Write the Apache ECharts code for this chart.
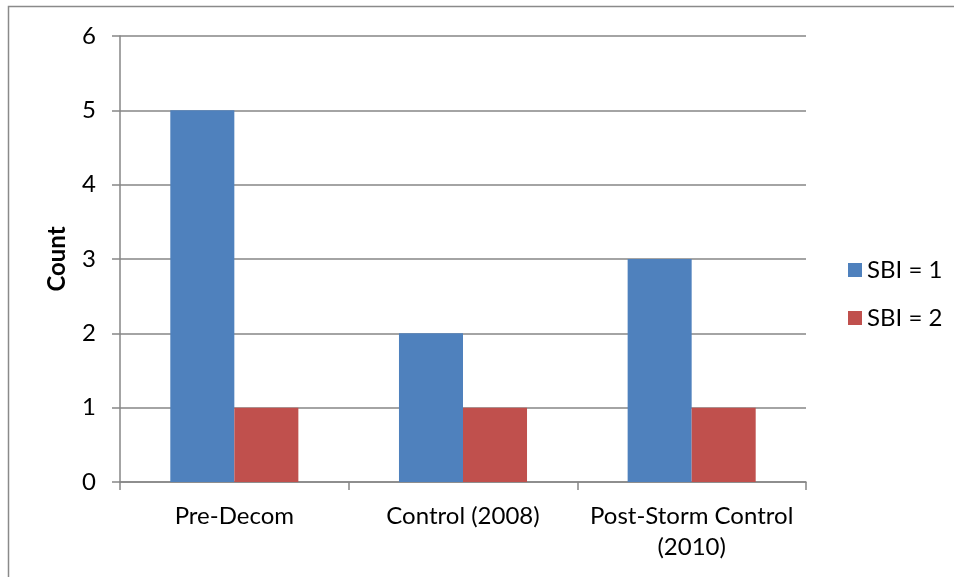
<!DOCTYPE html>
<html>
<head>
<meta charset="utf-8">
<script src="https://cdn.jsdelivr.net/npm/echarts@6/dist/echarts.min.js"></script>
<style>
  html, body { margin: 0; padding: 0; background: #fff; }
  #chart { width: 954px; height: 577px; }
</style>
</head>
<body>
<div id="chart"></div>
<script>
// Data
const categories = ['Pre-Decom', 'Control (2008)', 'Post-Storm Control\n(2010)'];
const sbi1 = [5, 2, 3];
const sbi2 = [1, 1, 1];
const seriesNames = ['SBI = 1', 'SBI = 2'];
const yTicks = { min: 0, max: 6, interval: 1 };

const FONT = 'Lato';
const GRID_GRAY = '#868686';

const chart = echarts.init(document.getElementById('chart'), null, { renderer: 'canvas' });

chart.setOption({
  animation: false,
  backgroundColor: '#fff',
  textStyle: { fontFamily: FONT },
  graphic: [{
    type: 'rect',
    shape: { x: 8.5, y: 6.5, width: 1000, height: 1000 },
    style: { fill: 'none', stroke: '#8a8a8a', lineWidth: 1.5 },
    silent: true
  }],
  grid: { left: 120, right: 148, top: 36, bottom: 95 },
  legend: {
    orient: 'vertical',
    left: 848,
    top: 258,
    padding: 0,
    itemWidth: 14,
    itemHeight: 14,
    itemGap: 24,
    icon: 'rect',
    textStyle: { fontFamily: FONT, fontSize: 24, color: '#000', lineHeight: 24 },
    data: seriesNames
  },
  xAxis: {
    type: 'category',
    data: categories,
    axisLine: { lineStyle: { color: GRID_GRAY, width: 1.5 } },
    axisTick: { show: true, length: 8, lineStyle: { color: GRID_GRAY, width: 1.5 } },
    axisLabel: { fontFamily: FONT, fontSize: 24, color: '#000', margin: 19, lineHeight: 31, interval: 0 }
  },
  yAxis: {
    type: 'value',
    min: yTicks.min,
    max: yTicks.max,
    interval: yTicks.interval,
    name: 'Count',
    nameLocation: 'middle',
    nameRotate: 90,
    nameGap: 51,
    nameTextStyle: { fontFamily: FONT, fontSize: 24, fontWeight: 'bold', color: '#000' },
    axisLine: { show: true, lineStyle: { color: GRID_GRAY, width: 1.5 } },
    axisTick: { show: true, length: 8, lineStyle: { color: GRID_GRAY, width: 1.5 } },
    axisLabel: { fontFamily: FONT, fontSize: 24, color: '#000', margin: 24 },
    splitLine: { show: true, lineStyle: { color: GRID_GRAY, width: 1.5 } }
  },
  series: [
    {
      name: seriesNames[0],
      type: 'bar',
      data: sbi1,
      barGap: '0%',
      barCategoryGap: '44%',
      itemStyle: { color: '#4F81BD' }
    },
    {
      name: seriesNames[1],
      type: 'bar',
      data: sbi2,
      barGap: '0%',
      barCategoryGap: '44%',
      itemStyle: { color: '#C0504D' }
    }
  ]
});
</script>
</body>
</html>
